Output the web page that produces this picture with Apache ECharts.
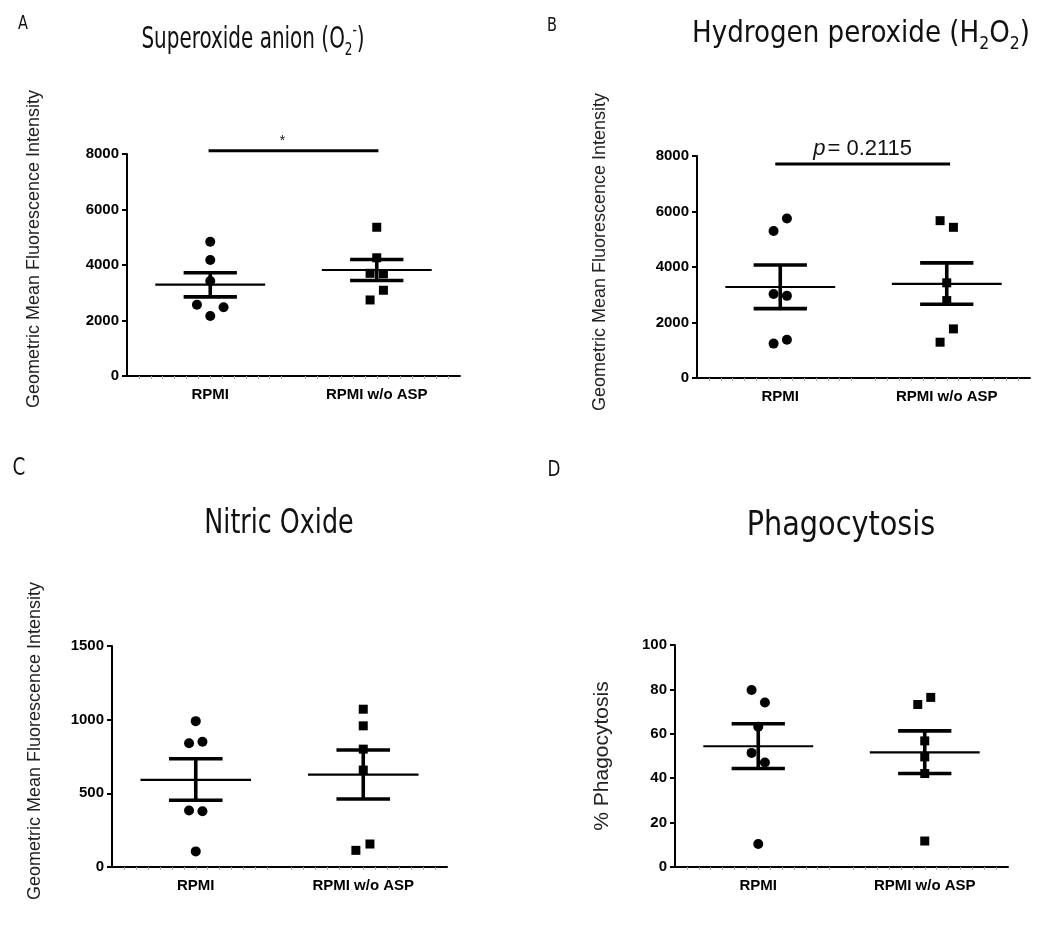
<!DOCTYPE html>
<html><head><meta charset="utf-8">
<script src="https://cdn.jsdelivr.net/npm/echarts@6/dist/echarts.min.js"></script>
<style>html,body{margin:0;padding:0;background:#fff}#c{width:1037px;height:931px}</style>
</head><body><div id="c"></div>
<script>
// ---------- DATA ----------
const categories = ['RPMI', 'RPMI w/o ASP'];

// Panel A: Superoxide anion
const aRPMI    = [4840, 4180, 3420, 2570, 2480, 2160];
const aRPMIJit = [0, 0, 0, -0.08, 0.08, 0];
const aASP     = [5360, 4260, 3700, 3680, 3090, 2740];
const aASPJit  = [0, 0, -0.04, 0.04, 0.04, -0.04];
const aMean    = [3290, 3820];
const aSemHi   = [3720, 4200];
const aSemLo   = [2850, 3440];
const aTicks   = [0, 8000, 2000];

// Panel B: Hydrogen peroxide
const bRPMI    = [5750, 5300, 3030, 2960, 1380, 1240];
const bRPMIJit = [0.04, -0.04, -0.04, 0.04, 0.04, -0.04];
const bASP     = [5670, 5430, 3430, 2790, 1770, 1290];
const bASPJit  = [-0.04, 0.04, 0, 0, 0.04, -0.04];
const bMean    = [3280, 3390];
const bSemHi   = [4070, 4150];
const bSemLo   = [2500, 2660];
const bTicks   = [0, 8000, 2000];

// Panel C: Nitric oxide
const cRPMI    = [990, 850, 840, 383, 379, 106];
const cRPMIJit = [0, 0.04, -0.04, -0.04, 0.04, 0];
const cASP     = [1071, 958, 800, 658, 156, 113];
const cASPJit  = [0, 0, 0, 0, 0.04, -0.044];
const cMean    = [591, 627];
const cSemHi   = [735, 794];
const cSemLo   = [453, 462];
const cTicks   = [0, 1500, 500];

// Panel D: Phagocytosis
const dRPMI    = [79.7, 74.1, 63.2, 51.4, 47.1, 10.4];
const dRPMIJit = [-0.04, 0.04, 0, -0.04, 0.04, 0];
const dASP     = [76.4, 73.2, 56.8, 49.6, 42.1, 11.7];
const dASPJit  = [0.036, -0.042, 0, 0, 0, 0];
const dMean    = [54.4, 51.6];
const dSemHi   = [64.5, 61.3];
const dSemLo   = [44.4, 42.1];
const dTicks   = [0, 100, 20];

// significance annotations: [from, to, y]
const aSig = [0.49, 1.51, 8120];
const aSigLabel = '*';
const bSig = [0.47, 1.52, 7710];
const bSigLabel = '{i|p}{n|= 0.2115}';

const panelLetters = ['A', 'B', 'C', 'D'];
const yTitles = ['Geometric Mean Fluorescence Intensity', 'Geometric Mean Fluorescence Intensity',
                 'Geometric Mean Fluorescence Intensity', '% Phagocytosis'];

// ---------- LAYOUT ----------
const panels = [
  {grid:{left:127, top:154, width:333, height:222}, ticks:aTicks, r:aRPMI, rj:aRPMIJit, s:aASP, sj:aASPJit, mean:aMean, hi:aSemHi, lo:aSemLo, sig:aSig, sigLabel:aSigLabel},
  {grid:{left:697, top:156, width:333, height:222}, ticks:bTicks, r:bRPMI, rj:bRPMIJit, s:bASP, sj:bASPJit, mean:bMean, hi:bSemHi, lo:bSemLo, sig:bSig, sigLabel:bSigLabel},
  {grid:{left:112, top:646, width:335, height:221}, ticks:cTicks, r:cRPMI, rj:cRPMIJit, s:cASP, sj:cASPJit, mean:cMean, hi:cSemHi, lo:cSemLo},
  {grid:{left:675, top:645, width:333, height:222}, ticks:dTicks, r:dRPMI, rj:dRPMIJit, s:dASP, sj:dASPJit, mean:dMean, hi:dSemHi, lo:dSemLo}
];

const grids = [], xAxes = [], yAxes = [], series = [];
const BLACK = '#000';

panels.forEach((p, i) => {
  grids.push(p.grid);
  xAxes.push({
    type:'category', gridIndex:i, data:categories, position:'bottom', boundaryGap:true,
    axisLine:{lineStyle:{color:BLACK, width:2}},
    axisTick:{alignWithLabel:true, length:5, lineStyle:{color:BLACK, width:2}},
    axisLabel:{color:BLACK, fontWeight:'bold', fontSize:15, fontFamily:'Liberation Sans, Arial', margin:11}
  });
  xAxes.push({
    type:'value', gridIndex:i, min:0, max:2, interval:1, position:'bottom',
    axisLine:{show:false}, axisTick:{show:false}, axisLabel:{show:false}, splitLine:{show:false},
    minorTick:{show:true, splitNumber:14, length:3, lineStyle:{color:'#aaa', width:1}}
  });
  yAxes.push({
    type:'value', gridIndex:i, min:p.ticks[0], max:p.ticks[1], interval:p.ticks[2],
    axisLine:{show:true, lineStyle:{color:BLACK, width:2}},
    axisTick:{show:true, length:5, lineStyle:{color:BLACK, width:2}},
    splitLine:{show:false},
    axisLabel:{color:BLACK, fontWeight:'bold', fontSize:15, fontFamily:'Liberation Sans, Arial', margin:8,
               formatter:(v) => String(v)}
  });
  const xi = 2*i + 1;
  // mean + SEM
  series.push({
    type:'custom', xAxisIndex:xi, yAxisIndex:i, clip:false, silent:true, z:3,
    data:[0,1].map(k => [0.5 + k, p.mean[k], p.lo[k], p.hi[k]]),
    renderItem:(params, api) => {
      const c = api.value(0), m = api.value(1), lo = api.value(2), hi = api.value(3);
      const L = (a, b, w) => ({type:'line', shape:{x1:a[0], y1:a[1], x2:b[0], y2:b[1]}, style:{stroke:BLACK, lineWidth:w}});
      return {type:'group', children:[
        L(api.coord([c-0.33, m]), api.coord([c+0.33, m]), 2.2),
        L(api.coord([c-0.16, hi]), api.coord([c+0.16, hi]), 3.6),
        L(api.coord([c-0.16, lo]), api.coord([c+0.16, lo]), 3.6),
        L(api.coord([c, hi]), api.coord([c, lo]), 3.6)
      ]};
    }
  });
  series.push({
    type:'scatter', xAxisIndex:xi, yAxisIndex:i, symbol:'circle', symbolSize:10, z:4,
    itemStyle:{color:BLACK, opacity:1}, data:p.r.map((v, k) => [0.5 + p.rj[k], v])
  });
  series.push({
    type:'scatter', xAxisIndex:xi, yAxisIndex:i, symbol:'rect', symbolSize:9, z:4,
    itemStyle:{color:BLACK, opacity:1}, data:p.s.map((v, k) => [1.5 + p.sj[k], v])
  });
  if (p.sig) {
    const lab = p.sigLabel;
    series.push({
      type:'custom', xAxisIndex:xi, yAxisIndex:i, clip:false, silent:true, z:3,
      data:[p.sig],
      renderItem:(params, api) => {
        const a = api.coord([api.value(0), api.value(2)]);
        const b = api.coord([api.value(1), api.value(2)]);
        const star = lab === '*';
        return {type:'group', children:[
          {type:'line', shape:{x1:a[0], y1:a[1], x2:b[0], y2:b[1]}, style:{stroke:BLACK, lineWidth:3}},
          {type:'text', x:(a[0]+b[0])/2 + (star ? -11 : 0), y:a[1] - (star ? 3 : 4),
           style:{text:lab, align:'center', verticalAlign:'bottom', fill:'#111',
                  fontSize: star ? 14 : 22, fontFamily:'Liberation Sans, Arial',
                  rich:{i:{fontStyle:'italic', fontSize:22, fontFamily:'Liberation Sans, Arial', fill:'#111'},
                        n:{fontSize:22, fontFamily:'Liberation Sans, Arial', fill:'#111', padding:[0,0,0,2]}}}}
        ]};
      }
    });
  }
});

// ---------- TEXT (titles, letters, y titles) ----------
const TF = '"DejaVu Sans Condensed", "Liberation Sans Narrow", sans-serif';
function titleText(x, y, text, size, subSize, sx) {
  return {type:'text', x:x, y:y, scaleX:sx, style:{
    text:text, align:'center', verticalAlign:'middle', fill:'#111',
    rich:{
      m:{fontSize:size, fontFamily:TF, lineHeight:size+8, fill:'#111'},
      sub:{fontSize:subSize, fontFamily:TF, lineHeight:subSize, verticalAlign:'bottom', fill:'#111'},
      sup:{fontSize:subSize, fontFamily:TF, lineHeight:subSize, verticalAlign:'top', fill:'#111'}
    }}};
}
const graphics = [
  titleText(253, 40, '{m|Superoxide anion (O}{sub|2}{sup|-}{m|)}', 30, 18, 0.74),
  titleText(861, 34, '{m|Hydrogen peroxide (H}{sub|2}{m|O}{sub|2}{m|)}', 30, 18, 0.97),
  titleText(279, 524, '{m|Nitric Oxide}', 34, 20, 0.83),
  titleText(841, 526, '{m|Phagocytosis}', 34, 20, 0.94),
  {type:'text', x:23, y:24, scaleX:0.85, style:{text:panelLetters[0], fontSize:19, fontFamily:TF, fill:'#111', align:'center', verticalAlign:'middle'}},
  {type:'text', x:552, y:26, scaleX:0.85, style:{text:panelLetters[1], fontSize:19, fontFamily:TF, fill:'#111', align:'center', verticalAlign:'middle'}},
  {type:'text', x:19, y:469, scaleX:0.85, style:{text:panelLetters[2], fontSize:24, fontFamily:TF, fill:'#111', align:'center', verticalAlign:'middle'}},
  {type:'text', x:554, y:470, scaleX:0.85, style:{text:panelLetters[3], fontSize:22, fontFamily:TF, fill:'#111', align:'center', verticalAlign:'middle'}},
  {type:'text', x:34, y:249, rotation:Math.PI/2, style:{text:yTitles[0], fontSize:18, fontFamily:'Liberation Sans, Arial', fill:'#222', align:'center', verticalAlign:'middle'}},
  {type:'text', x:600, y:252, rotation:Math.PI/2, style:{text:yTitles[1], fontSize:18, fontFamily:'Liberation Sans, Arial', fill:'#222', align:'center', verticalAlign:'middle'}},
  {type:'text', x:35, y:741, rotation:Math.PI/2, style:{text:yTitles[2], fontSize:18, fontFamily:'Liberation Sans, Arial', fill:'#222', align:'center', verticalAlign:'middle'}},
  {type:'text', x:602, y:756, rotation:Math.PI/2, style:{text:yTitles[3], fontSize:21, fontFamily:'Liberation Sans, Arial', fill:'#222', align:'center', verticalAlign:'middle'}}
];

const chart = echarts.init(document.getElementById('c'), null, {renderer:'canvas'});
chart.setOption({
  animation:false,
  backgroundColor:'#fff',
  grid:grids, xAxis:xAxes, yAxis:yAxes, series:series,
  graphic:graphics
});
</script></body></html>
